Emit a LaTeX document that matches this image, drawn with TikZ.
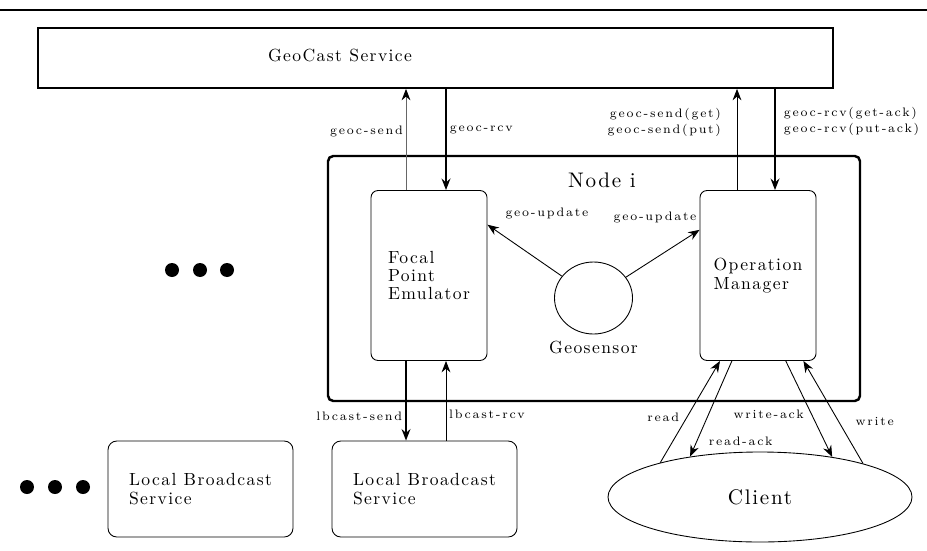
\documentclass[tikz,border=0pt]{standalone}
\usepackage{fontspec}
\newfontfamily\lmwide{lmroman10-regular.otf}[LetterSpace=8]
\newfontfamily\lmsmall{lmroman7-regular.otf}[LetterSpace=14]
\usetikzlibrary{arrows.meta,shapes.geometric}
\tikzset{
	compbox/.style={draw, rounded corners=4pt, line width=0.5pt, align=left,
		font=\lmwide\fontsize{10}{10.5}\selectfont},
	msg/.style={font=\lmsmall\fontsize{7}{9}\selectfont, inner sep=1.5pt},
	bigarr/.style={->, line width=1.4pt},
	smallarr/.style={->, line width=0.5pt}
}

\begin{document}
\begin{tikzpicture}[>={Stealth[length=6.5pt,width=5pt]}]
	\useasboundingbox (0,0) rectangle (18.54,-11);
	\draw[line width=1.4pt] (0,-0.2) -- (18.54,-0.2);

	\node[draw, line width=1pt, minimum width=15.9cm, minimum height=1.2cm] (geocast) at (8.71,-1.16) {};
	\node[font=\lmwide] (geocasttxt) at (6.8,-1.1) {GeoCast Service};

	\node[draw, rounded corners=3pt, line width=1.4pt, minimum width=10.64cm, minimum height=4.9cm] (nodei) at (11.88,-5.57) {};
	\node[font=\large\lmwide] (nodeititle) at (12.04,-3.6) {Node i};

	\node[compbox, minimum width=2.32cm, minimum height=3.4cm] (fpe) at (8.58,-5.51) {Focal\\Point\\Emulator};
	\node[compbox, minimum width=2.32cm, minimum height=3.4cm] (om) at (15.16,-5.51) {Operation\\Manager};
	\node[draw, ellipse, line width=0.5pt, minimum width=1.56cm, minimum height=1.44cm,
		label={[font=\lmwide]below:Geosensor}] (geo) at (11.87,-5.96) {};

	\node[compbox, rounded corners=5pt, minimum width=3.7cm, minimum height=1.92cm] (lbs) at (8.49,-9.78) {Local Broadcast\\Service};
	\node[compbox, rounded corners=5pt, minimum width=3.7cm, minimum height=1.92cm] (lbsleft) at (4.01,-9.78) {Local Broadcast\\Service};
	\node[draw, ellipse, line width=0.5pt, minimum width=6.08cm, minimum height=1.8cm, font=\large\lmwide] (client) at (15.2,-9.94) {Client};

	\foreach \x in {3.44,4.0,4.54}
		\fill (\x,-5.4) circle (0.14);
	\foreach \x in {0.54,1.1,1.66}
		\fill (\x,-9.74) circle (0.14);

	% geocast links
	\draw[line width=0.5pt, gray!80!black, -{Stealth[length=6.5pt,width=5pt,color=black]}] ([xshift=-0.46cm]fpe.north) -- ([xshift=-0.46cm]fpe.north |- geocast.south)
		node[msg, pos=0.58, left, black] {geoc-send};
	\draw[bigarr] ([xshift=0.34cm]fpe.north |- geocast.south) -- ([xshift=0.34cm]fpe.north)
		node[msg, pos=0.41, right] {geoc-rcv};
	\draw[smallarr] ([xshift=-0.42cm]om.north) -- ([xshift=-0.42cm]om.north |- geocast.south)
		node[msg, pos=0.67, left=0.26cm, align=right] {geoc-send(get)\\geoc-send(put)};
	\draw[bigarr] ([xshift=0.34cm]om.north |- geocast.south) -- ([xshift=0.34cm]om.north)
		node[msg, pos=0.32, right=0.1cm, align=left] {geoc-rcv(get-ack)\\geoc-rcv(put-ack)};

	% local broadcast
	\draw[bigarr] ([xshift=-0.46cm]fpe.south) -- ([xshift=-0.46cm]fpe.south |- lbs.north)
		node[msg, pos=0.7, left] {lbcast-send};
	\draw[smallarr] ([xshift=0.34cm]fpe.south |- lbs.north) -- ([xshift=0.34cm]fpe.south)
		node[msg, pos=0.33, right] {lbcast-rcv};

	\draw[smallarr] (geo) -- (fpe.41) node[msg, pos=1, anchor=west, xshift=0.3cm, yshift=0.22cm] {geo-update};
	\draw[smallarr] (geo) -- (om.142) node[msg, pos=1, anchor=east, yshift=0.24cm] {geo-update};

	% client
	\draw[smallarr] (client.161) -- (om.246) node[msg, pos=0.45, left=0.1cm] {read};
	\draw[smallarr] (om.253) -- (client.150) node[msg, pos=0.84, right=0.18cm] {read-ack};
	\draw[smallarr] (om.288) -- (client.29) node[msg, pos=0.56, left=0.1cm] {write-ack};
	\draw[smallarr] (client.18) -- (om.298) node[msg, pos=0.41, right=0.28cm] {write};
\end{tikzpicture}
\end{document}
